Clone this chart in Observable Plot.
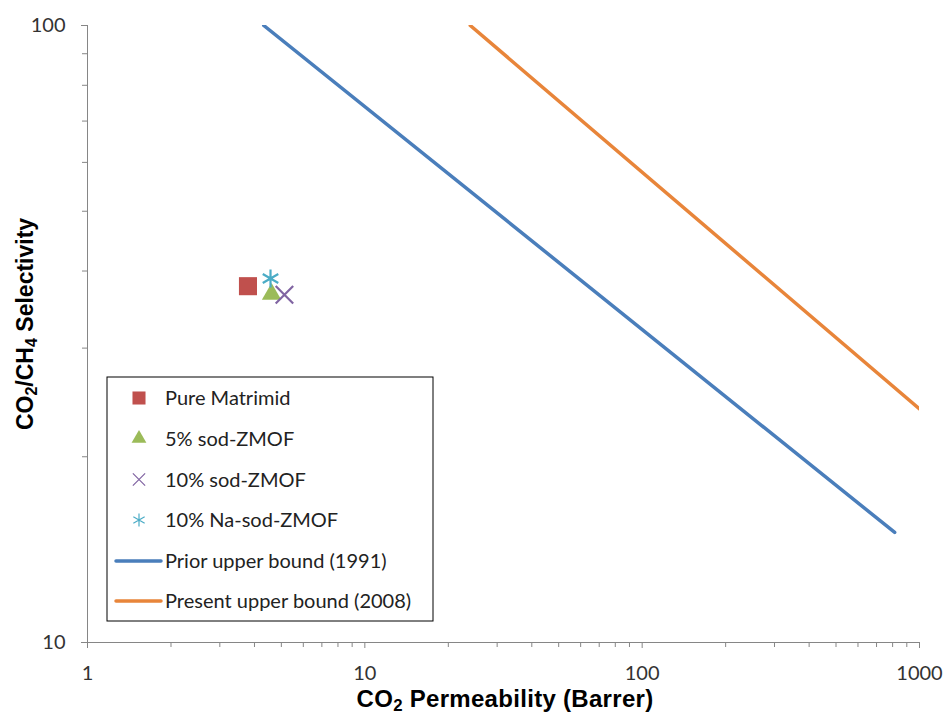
<!DOCTYPE html>
<html><head><meta charset="utf-8">
<script src="https://cdn.jsdelivr.net/npm/d3@7"></script>
<script src="https://cdn.jsdelivr.net/npm/@observablehq/plot@0.6"></script>
<style>body{margin:0;background:#fff} svg{display:block}</style>
</head><body><div id="chart"></div>
<script>
// ---- data ----
const seriesNames = ["Pure Matrimid", "5% sod-ZMOF", "10% sod-ZMOF", "10% Na-sod-ZMOF"];
const seriesSymbols = ["square", "triangle", "times", "asterisk"];
const seriesColors = ["#C0504D", "#9BBB59", "#8064A2", "#4BACC6"];
const permeability = [3.79, 4.61, 5.13, 4.57];
const selectivity = [37.8, 36.7, 36.6, 38.9];

const boundNames = ["Prior upper bound (1991)", "Present upper bound (2008)"];
const boundColors = ["#4A7EBB", "#E8853A"];
const prior1991P = [4.32, 814];
const prior1991S = [100, 15.08];
const present2008P = [24.0, 1000];
const present2008S = [100, 23.9];

const xMajorTicks = [1, 10, 100, 1000];
const yMajorTicks = [10, 100];
const xMinorTicks = [2,3,4,5,6,7,8,9,20,30,40,50,60,70,80,90,200,300,400,500,600,700,800,900];
const yMinorTicks = [20,30,40,50,60,70,80,90];

const xTitle = ["CO", "2", " Permeability (Barrer)"];
const yTitle = ["CO", "2", "/CH", "4", " Selectivity"];

// ---- build ----
const points = seriesNames.map((name, i) => ({name, x: permeability[i], y: selectivity[i]}));
const bounds = [
  prior1991P.map((p, i) => ({x: p, y: prior1991S[i]})),
  present2008P.map((p, i) => ({x: p, y: present2008S[i]}))
];
const axisGray = "#868686";
const tickFont = "Lato, 'Open Sans', sans-serif";

const marks = [
  Plot.ruleX([1], {stroke: axisGray, strokeWidth: 1}),
  Plot.ruleY([10], {stroke: axisGray, strokeWidth: 1}),
  Plot.axisX({ticks: xMinorTicks, tickFormat: () => "", tickSize: 5, stroke: axisGray, label: null}),
  Plot.axisX({ticks: xMajorTicks, tickFormat: d => String(d), tickSize: 6, tickPadding: 17, stroke: axisGray, fill: "#333", label: null}),
  Plot.axisY({ticks: yMinorTicks, tickFormat: () => "", tickSize: 5, stroke: axisGray, label: null}),
  Plot.axisY({ticks: yMajorTicks, tickFormat: d => String(d), tickSize: 6, tickPadding: 16, stroke: axisGray, fill: "#333", label: null}),
  ...bounds.map((b, i) => Plot.line(b, {x: "x", y: "y", stroke: boundColors[i], strokeWidth: 3.5, strokeLinecap: "round", clip: true})),
];
const symR = [10.2, 7.2, 8, 8.5];
points.forEach((p, i) => {
  const filled = seriesSymbols[i] === "square" || seriesSymbols[i] === "triangle";
  marks.push(Plot.dot([p], {
    x: "x", y: "y", symbol: seriesSymbols[i], r: symR[i],
    fill: filled ? seriesColors[i] : "none",
    stroke: filled ? "none" : seriesColors[i],
    strokeWidth: filled ? 0 : 2.2
  }));
});

const chart = Plot.plot({
  width: 944, height: 717,
  marginLeft: 87, marginRight: 25, marginTop: 25, marginBottom: 75,
  x: {type: "log", domain: [1, 1000]},
  y: {type: "log", domain: [10, 100]},
  style: {fontFamily: tickFont, fontSize: "20px", background: "#fff", overflow: "visible"},
  marks
});
document.getElementById("chart").append(chart);

// ---- legend & titles ----
const svg = d3.select(chart);
const lg = svg.append("g").attr("text-anchor", "start");
lg.append("rect").attr("x", 107).attr("y", 377).attr("width", 326).attr("height", 244)
  .attr("fill", "#fff").attr("stroke", "#000").attr("stroke-width", 1);
const rowY = [398, 438.5, 479.5, 520, 561, 601];
const legSizes = [170, 95, 100, 120];
seriesNames.forEach((name, i) => {
  const filled = i < 2;
  const sym = [d3.symbolSquare, d3.symbolTriangle, d3.symbolTimes, d3.symbolAsterisk][i];
  lg.append("path").attr("d", d3.symbol(sym, legSizes[i])())
    .attr("transform", `translate(139,${rowY[i]})`)
    .attr("fill", filled ? seriesColors[i] : "none")
    .attr("stroke", filled ? "none" : seriesColors[i])
    .attr("stroke-width", 1.2);
  lg.append("text").attr("x", 165).attr("y", rowY[i]).attr("dy", "0.36em").attr("text-anchor", "start")
    .attr("font-family", tickFont).attr("font-size", 20).attr("fill", "#222").text(name);
});
boundNames.forEach((name, j) => {
  const y = rowY[4 + j];
  lg.append("line").attr("x1", 116).attr("x2", 161).attr("y1", y).attr("y2", y)
    .attr("stroke", boundColors[j]).attr("stroke-width", 3.5).attr("stroke-linecap", "round");
  lg.append("text").attr("x", 165).attr("y", y).attr("dy", "0.36em").attr("text-anchor", "start")
    .attr("font-family", tickFont).attr("font-size", 20).attr("fill", "#222").text(name);
});

function titleText(sel, parts) {
  parts.forEach((p, k) => {
    const sub = /^\d$/.test(p);
    const prevSub = k > 0 && /^\d$/.test(parts[k - 1]);
    const t = sel.append("tspan").text(p);
    if (sub) t.attr("font-size", "70%").attr("dy", "0.22em");
    else if (prevSub) t.attr("dy", "-0.154em");
  });
}
const titleFont = "'Liberation Sans', Arial, sans-serif";
const xt = svg.append("text").attr("x", 505).attr("y", 707).attr("text-anchor", "middle")
  .attr("font-family", titleFont).attr("font-weight", "bold").attr("font-size", 24)
  .attr("letter-spacing", "0.3px").attr("fill", "#000");
titleText(xt, xTitle);
const yt = svg.append("text").attr("transform", "translate(33,324) rotate(-90)").attr("text-anchor", "middle")
  .attr("font-family", titleFont).attr("font-weight", "bold").attr("font-size", 23).attr("fill", "#000");
titleText(yt, yTitle);
</script>
</body></html>
